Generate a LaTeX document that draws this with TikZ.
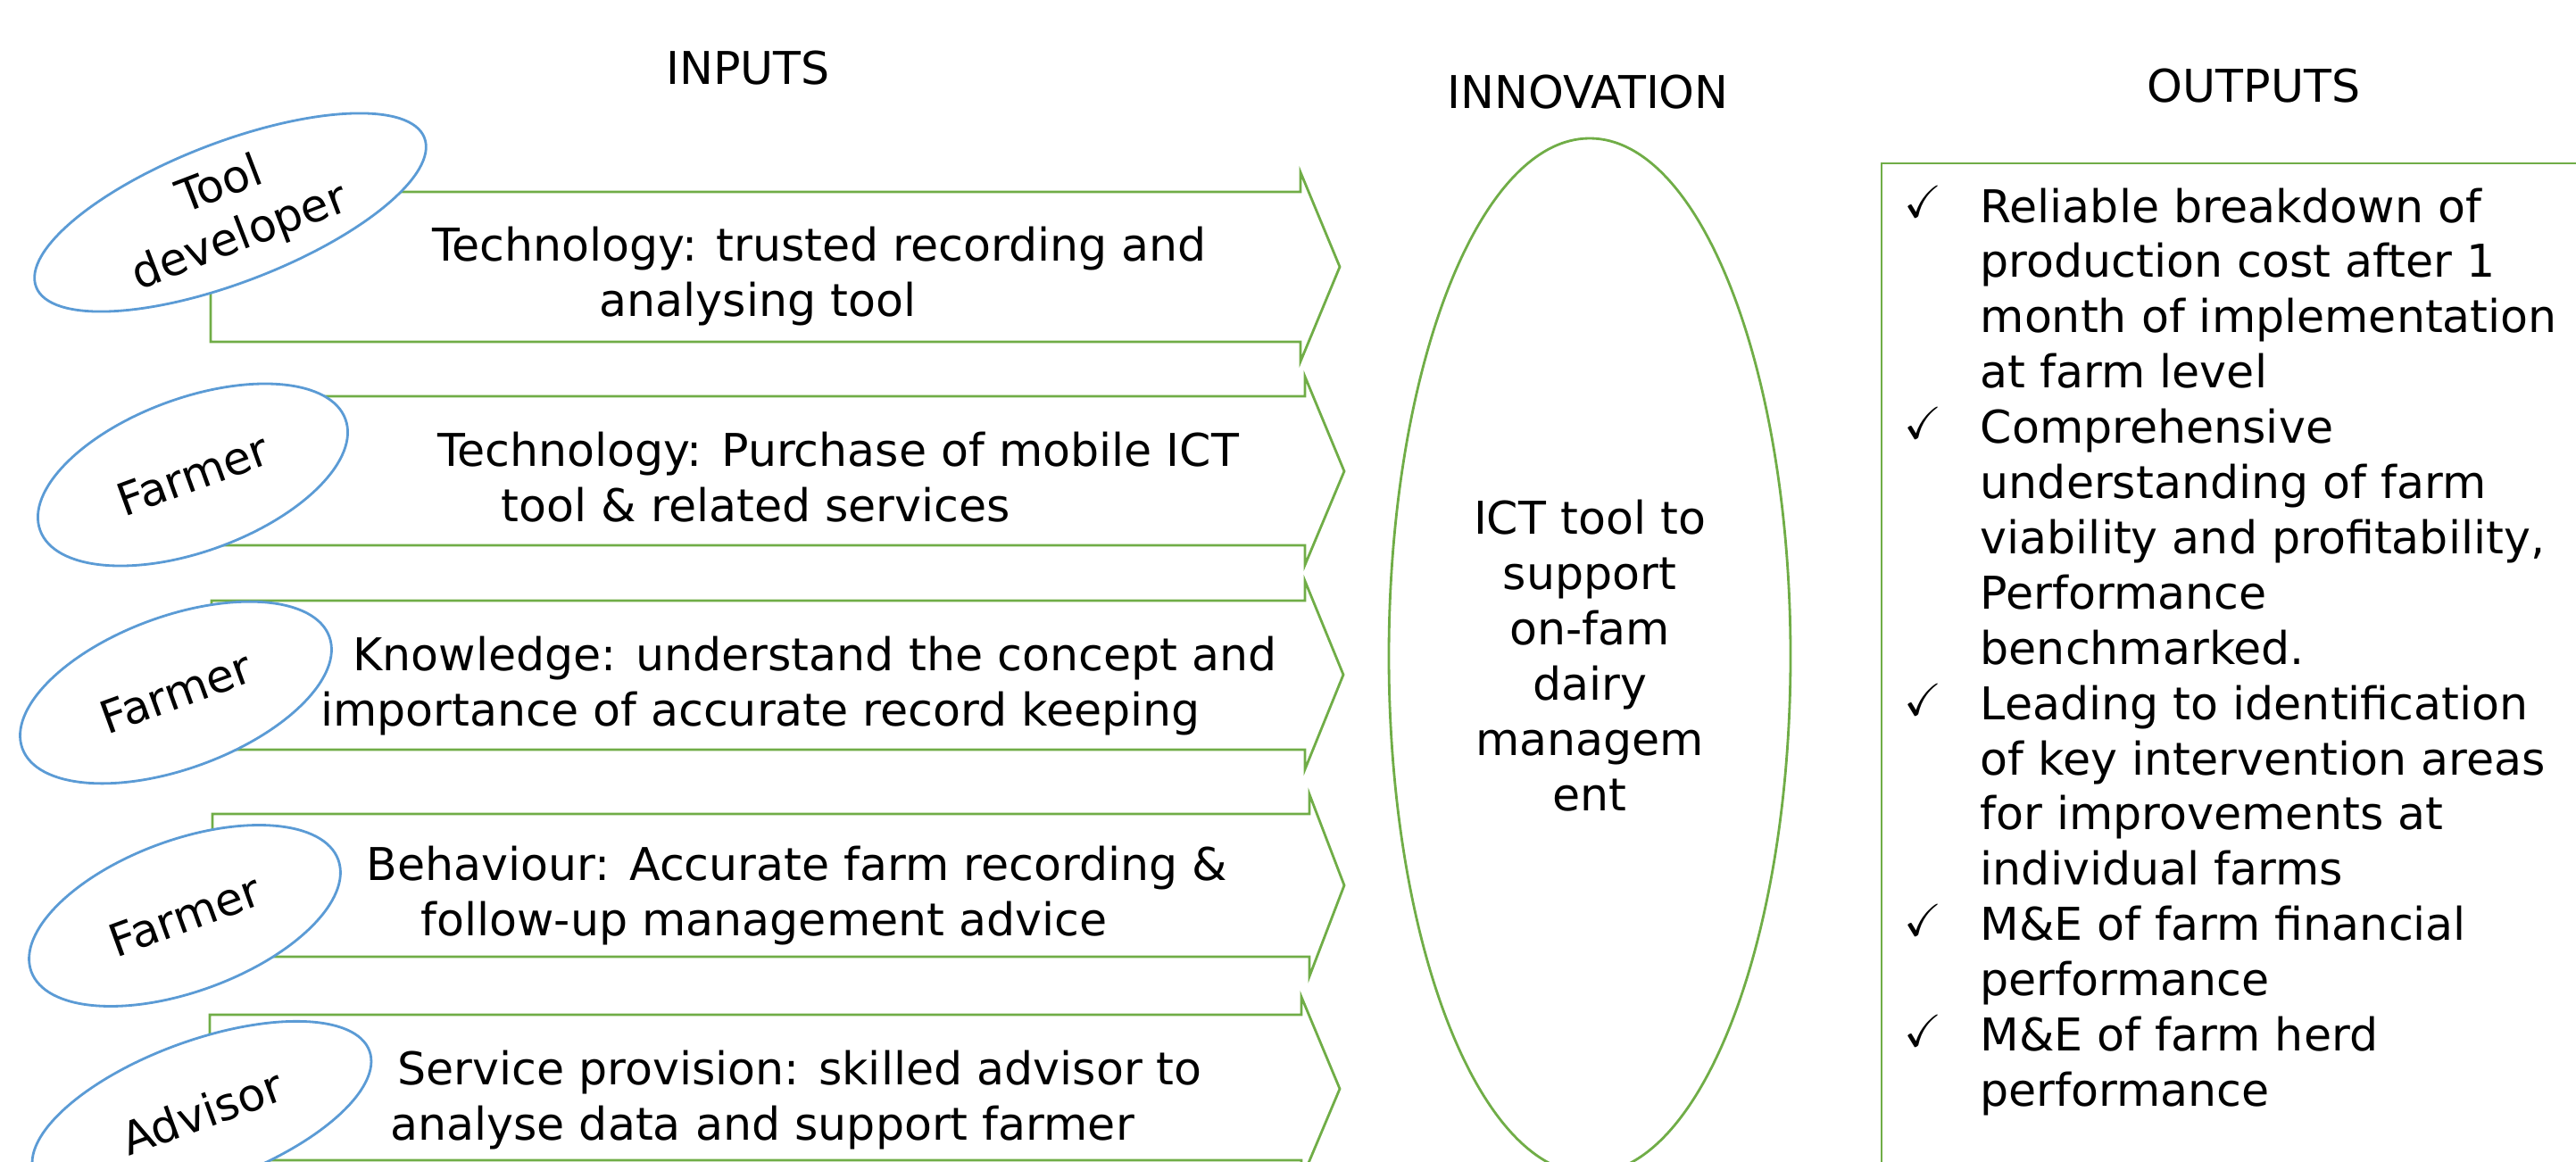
\documentclass[tikz,border=0pt]{standalone}
\usepackage{amssymb}
\usepackage{fontspec}
\setmainfont{DejaVu Sans}
\usetikzlibrary{shapes.geometric}

\definecolor{arrowgreen}{HTML}{70AD47}
\definecolor{actorblue}{HTML}{5B9BD5}

\tikzset{
    inarrow/.style={draw=arrowgreen, line width=0.8pt, line join=miter},
    actor/.style={ellipse, draw=actorblue, fill=white, line width=0.8pt, inner sep=0pt, align=center},
    innov/.style={ellipse, draw=arrowgreen, line width=0.8pt, inner sep=0pt, align=center}
}

\begin{document}
\begin{tikzpicture}[every node/.style={font=\fontsize{14.4pt}{17.64pt}\selectfont, inner sep=0pt}]
    \useasboundingbox (0,0) rectangle (28.86,-13.02);
    \clip (0,0) rectangle (28.86,-13.02);

    % headings
    \node[anchor=base] (inputs) at (8.38,-0.95) {INPUTS};
    \node[anchor=base] (innovation) at (17.79,-1.22) {INNOVATION};
    \node[anchor=base] (outputs) at (25.25,-1.15) {OUTPUTS};

    % input arrows
    \draw[inarrow] (2.36,-2.15) -- (14.57,-2.15) -- (14.57,-1.93) -- (15.01,-2.99) -- (14.57,-4.05) -- (14.57,-3.83) -- (2.36,-3.83) -- cycle;
    \draw[inarrow] (2.40,-4.44) -- (14.62,-4.44) -- (14.62,-4.22) -- (15.06,-5.28) -- (14.62,-6.33) -- (14.62,-6.11) -- (2.40,-6.11) -- cycle;
    \draw[inarrow] (2.37,-6.73) -- (14.62,-6.73) -- (14.62,-6.51) -- (15.05,-7.56) -- (14.62,-8.62) -- (14.62,-8.40) -- (2.37,-8.40) -- cycle;
    \draw[inarrow] (2.38,-9.12) -- (14.67,-9.12) -- (14.67,-8.90) -- (15.06,-9.92) -- (14.67,-10.94) -- (14.67,-10.72) -- (2.38,-10.72) -- cycle;
    \draw[inarrow] (2.35,-11.37) -- (14.58,-11.37) -- (14.58,-11.17) -- (15.01,-12.20) -- (14.58,-13.22) -- (14.58,-13.00) -- (2.35,-13.00) -- cycle;

    % text on the arrows
    \node[anchor=base] (tech1a) at (9.18,-2.93) {Technology: trusted recording and};
    \node[anchor=base] (tech1b) at (8.49,-3.55) {analysing tool};
    \node[anchor=base] (tech2a) at (9.39,-5.22) {Technology: Purchase of mobile ICT};
    \node[anchor=base] (tech2b) at (8.47,-5.84) {tool \& related services};
    \node[anchor=base] (knowa) at (9.13,-7.51) {Knowledge: understand the concept and};
    \node[anchor=base] (knowb) at (8.52,-8.13) {importance of accurate record keeping};
    \node[anchor=base] (behava) at (8.93,-9.86) {Behaviour: Accurate farm recording \&};
    \node[anchor=base] (behavb) at (8.56,-10.48) {follow-up management advice};
    \node[anchor=base] (serva) at (8.96,-12.15) {Service provision: skilled advisor to};
    \node[anchor=base] (servb) at (8.54,-12.77) {analyse data and support farmer};

    % actors
    \node[actor, minimum width=4.66cm, minimum height=1.54cm, rotate=21] (tooldev) at (2.58,-2.38) {Tool\\developer};
    \node[actor, minimum width=3.64cm, minimum height=1.72cm, rotate=20] (farmer1) at (2.16,-5.32) {Farmer};
    \node[actor, minimum width=3.66cm, minimum height=1.71cm, rotate=20] (farmer2) at (1.97,-7.76) {Farmer};
    \node[actor, minimum width=3.66cm, minimum height=1.70cm, rotate=20] (farmer3) at (2.07,-10.26) {Farmer};
    \node[actor, minimum width=4.00cm, minimum height=1.60cm, rotate=20] (advisor) at (2.26,-12.46) {Advisor};

    % innovation
    \node[innov, minimum width=4.5cm, minimum height=11.6cm] (ict) at (17.81,-7.35) {ICT tool to\\support\\on-fam\\dairy\\managem\\ent};

    % outputs
    \draw[inarrow] (21.08,-14.00) rectangle (29.50,-1.83);
    \foreach \txt [count=\i] in {Reliable breakdown of, production cost after 1, month of implementation, at farm level, Comprehensive, understanding of farm, {viability and profitability,}, Performance, benchmarked., Leading to identification, of key intervention areas, for improvements at, individual farms, M\&E of farm financial, performance, M\&E of farm herd, performance}
        \node[anchor=base west] (out\i) at (22.18,{-2.49-0.619*(\i-1)}) {\txt};
    \foreach \i in {1,5,10,14,16}
        \node[anchor=base east] (tick\i) at ([xshift=-0.42cm, yshift=0.05cm]out\i.base west) {$\checkmark$};
\end{tikzpicture}
\end{document}
